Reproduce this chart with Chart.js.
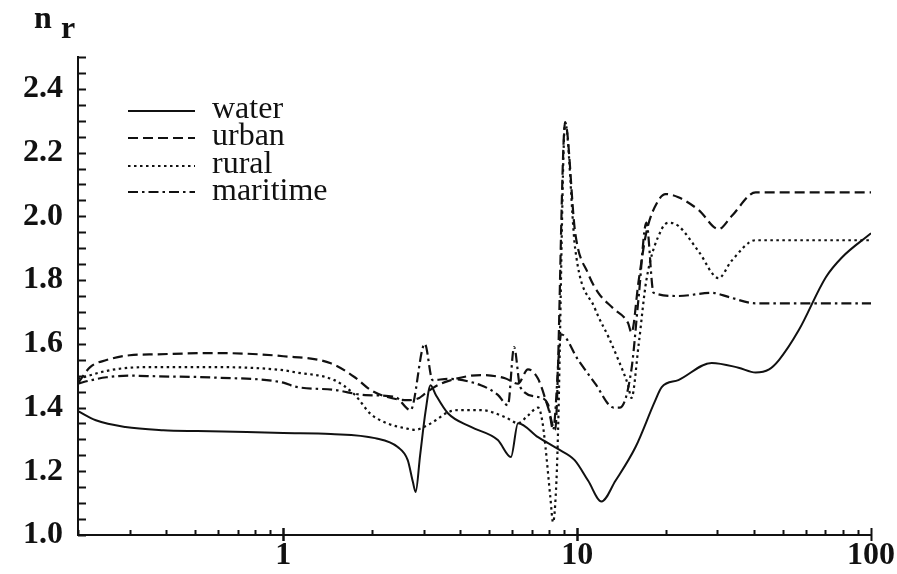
<!DOCTYPE html>
<html><head><meta charset="utf-8">
<script src="https://cdn.jsdelivr.net/npm/chart.js@4.4.1/dist/chart.umd.min.js"></script>
<style>html,body{margin:0;padding:0;background:#fff;}#wrap{width:897px;height:574px;}</style>
</head><body><div id="wrap"><canvas id="c" width="897" height="574"></canvas></div>
<script>
// ---- data ----
const yTickLabels = [1.0, 1.2, 1.4, 1.6, 1.8, 2.0, 2.2, 2.4];
const xTickLabels = [1, 10, 100];
const seriesNames = ['water', 'urban', 'rural', 'maritime'];

const waterWl = [0.2, 0.23, 0.29, 0.39, 0.51, 0.75, 1.0, 1.45, 2.05, 2.45, 2.65, 2.76, 2.82, 2.92, 3.05, 3.17, 3.3, 3.63, 4.35, 5.37, 5.95, 6.29, 7.36, 8.6, 9.8, 10.9, 12.1, 13.5, 15.8, 18.4, 19.4, 22.1, 28.7, 35.4, 40.5, 45, 48.6, 56.8, 70.2, 79.6, 100];
const waterN  = [1.389, 1.36, 1.339, 1.329, 1.326, 1.323, 1.32, 1.317, 1.304, 1.276, 1.235, 1.166, 1.135, 1.25, 1.39, 1.47, 1.44, 1.382, 1.339, 1.298, 1.245, 1.351, 1.307, 1.27, 1.235, 1.17, 1.105, 1.17, 1.276, 1.42, 1.464, 1.486, 1.54, 1.525, 1.51, 1.52, 1.549, 1.643, 1.809, 1.871, 1.947];

const urbanWl = [0.2, 0.22, 0.25, 0.3, 0.37, 0.58, 1.0, 1.45, 1.75, 1.98, 2.26, 2.65, 2.9, 3.0, 3.3, 3.63, 4.7, 5.68, 6.29, 6.8, 7.36, 7.96, 8.41, 9.1, 9.84, 10.9, 11.8, 13.3, 14.9, 15.3, 16.2, 17.2, 18.9, 20.0, 22.1, 25.9, 30.3, 33.5, 40.5, 100];
const urbanN  = [1.476, 1.527, 1.549, 1.564, 1.567, 1.571, 1.561, 1.539, 1.495, 1.455, 1.433, 1.423, 1.43, 1.44, 1.467, 1.483, 1.502, 1.492, 1.475, 1.52, 1.49, 1.40, 1.33, 2.295, 1.95, 1.82, 1.76, 1.71, 1.665, 1.635, 1.80, 1.95, 2.05, 2.07, 2.06, 2.02, 1.96, 2.0, 2.075, 2.075];

const ruralWl = [0.2, 0.25, 0.3, 0.37, 0.58, 1.0, 1.09, 1.49, 1.75, 1.98, 2.26, 2.6, 2.8, 3.1, 3.3, 3.63, 3.92, 4.7, 5.68, 6.29, 6.8, 7.36, 7.6, 7.8, 8.1, 8.28, 8.5, 8.61, 9.1, 9.84, 11.5, 12.8, 13.8, 14.9, 15.3, 16.2, 17.2, 19.4, 20.5, 22.1, 25.9, 30.3, 33.5, 40.5, 100];
const ruralN  = [1.49, 1.515, 1.525, 1.527, 1.527, 1.517, 1.511, 1.486, 1.44, 1.38, 1.35, 1.335, 1.33, 1.345, 1.36, 1.385, 1.392, 1.392, 1.37, 1.351, 1.375, 1.40, 1.36, 1.276, 1.12, 1.04, 1.17, 1.33, 2.295, 1.90, 1.71, 1.62, 1.55, 1.47, 1.43, 1.60, 1.80, 1.96, 1.98, 1.97, 1.89, 1.806, 1.86, 1.925, 1.925];

const maritimeWl = [0.2, 0.22, 0.25, 0.3, 0.37, 0.58, 1.0, 1.09, 1.5, 1.9, 2.4, 2.71, 3.03, 3.22, 3.63, 4.7, 5.37, 5.81, 6.1, 6.4, 7.36, 7.96, 8.28, 8.82, 10.08, 11.5, 13.3, 14.0, 15.3, 16.2, 17.2, 18.2, 22.1, 28.7, 33.0, 40.5, 100];
const maritimeN  = [1.475, 1.485, 1.495, 1.5, 1.498, 1.494, 1.478, 1.466, 1.455, 1.439, 1.433, 1.392, 1.60, 1.486, 1.49, 1.47, 1.44, 1.407, 1.59, 1.464, 1.433, 1.41, 1.33, 1.63, 1.549, 1.476, 1.40, 1.40, 1.52, 1.75, 1.98, 1.76, 1.75, 1.76, 1.746, 1.727, 1.727];

// ---- build ----
const toPts = (xs, ys) => xs.map((x, i) => ({x: x, y: ys[i]}));
const dashes = [[], [10, 5], [2.5, 3.5], [10, 4, 2.5, 4]];
const allData = [toPts(waterWl, waterN), toPts(urbanWl, urbanN), toPts(ruralWl, ruralN), toPts(maritimeWl, maritimeN)];
const datasets = seriesNames.map((name, i) => ({
  label: name,
  data: allData[i],
  borderColor: '#111',
  borderWidth: i === 0 ? 2 : 2.2,
  borderDash: dashes[i],
  pointRadius: 0,
  fill: false,
  cubicInterpolationMode: 'monotone'
}));

const serif = '"Liberation Serif", "Times New Roman", serif';

const decor = {
  id: 'decor',
  afterDraw(chart) {
    const ctx = chart.ctx;
    const xs = chart.scales.x, ys = chart.scales.y;
    const ca = chart.chartArea;
    ctx.save();
    ctx.strokeStyle = '#111';
    ctx.lineWidth = 2;
    ctx.setLineDash([]);
    // y ticks (inward) every 0.05
    for (let k = 0; k <= 30; k++) {
      const py = Math.round(ys.getPixelForValue(1 + k * 0.05)) + 0.5;
      ctx.beginPath(); ctx.moveTo(ca.left, py); ctx.lineTo(ca.left + 8, py); ctx.stroke();
    }
    // x ticks
    [0.1, 1, 10].forEach(d => {
      for (let m = 1; m <= 10; m++) {
        const v = m * d;
        if (v < 0.2 - 1e-9 || v > 100 + 1e-9) continue;
        const px = Math.round(xs.getPixelForValue(v)) + 0.5;
        const major = Math.abs(Math.log10(v) - Math.round(Math.log10(v))) < 1e-9;
        ctx.beginPath();
        if (major) { ctx.moveTo(px, ca.bottom - 7); ctx.lineTo(px, ca.bottom + 6); }
        else { ctx.moveTo(px, ca.bottom - 5); ctx.lineTo(px, ca.bottom); }
        ctx.stroke();
      }
    });
    // axis title n_r
    ctx.fillStyle = '#111';
    ctx.textBaseline = 'alphabetic';
    ctx.textAlign = 'left';
    ctx.font = 'bold 32px ' + serif;
    ctx.fillText('n', 34, 28);
    ctx.fillText('r', 61, 38);
    // legend
    const ly = [111, 138, 166, 192];
    const ty = [118, 145, 173, 200];
    ctx.font = '32px ' + serif;
    chart.data.datasets.forEach((ds, i) => {
      ctx.setLineDash(ds.borderDash);
      ctx.lineWidth = 2.2;
      ctx.beginPath(); ctx.moveTo(128, ly[i]); ctx.lineTo(195, ly[i]); ctx.stroke();
      ctx.setLineDash([]);
      ctx.fillText(ds.label, 212, ty[i]);
    });
    ctx.restore();
  }
};

new Chart(document.getElementById('c'), {
  type: 'line',
  data: { datasets },
  options: {
    responsive: false,
    animation: false,
    devicePixelRatio: 1,
    layout: { padding: { top: 57, right: 24, left: 0, bottom: 0 } },
    plugins: { legend: { display: false }, tooltip: { enabled: false }, title: { display: false } },
    scales: {
      x: {
        type: 'logarithmic', min: 0.2, max: 100,
        afterBuildTicks: s => { s.ticks = xTickLabels.map(v => ({ value: v, major: true })); },
        afterFit: s => { s.height = 39; },
        ticks: { callback: v => String(v), font: { family: serif, size: 32, weight: 'bold' }, color: '#111', padding: 2, maxRotation: 0, autoSkip: false },
        grid: { display: false, drawTicks: false, tickLength: 0 },
        border: { display: true, color: '#111', width: 2 }
      },
      y: {
        type: 'linear', min: 1.0, max: 2.5,
        afterBuildTicks: s => { s.ticks = yTickLabels.map(v => ({ value: v })); },
        afterFit: s => { s.width = 78; },
        ticks: { callback: v => Number(v).toFixed(1), font: { family: serif, size: 32, weight: 'bold' }, color: '#111', padding: 15 },
        grid: { display: false, drawTicks: false, tickLength: 0 },
        border: { display: true, color: '#111', width: 2 }
      }
    }
  },
  plugins: [decor]
});
</script>
</body></html>
